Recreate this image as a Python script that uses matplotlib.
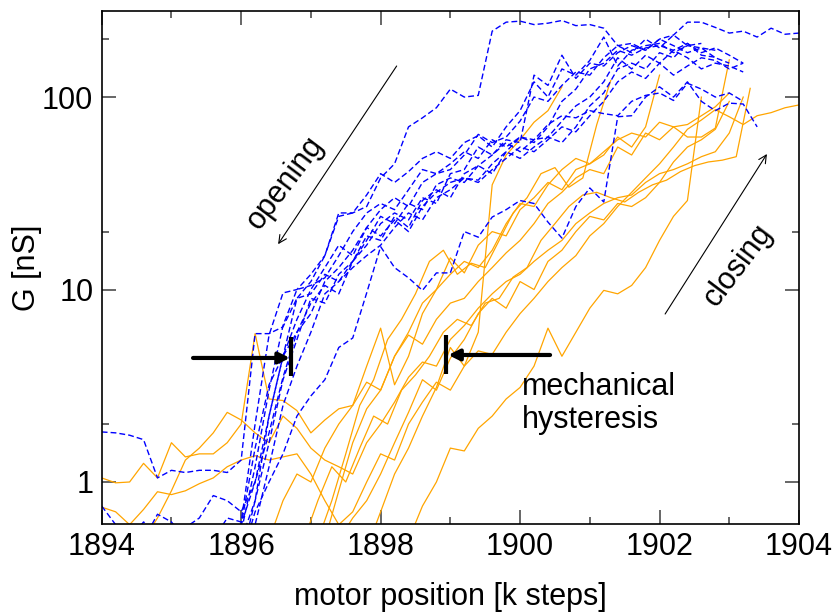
import matplotlib
matplotlib.use('Agg')
import matplotlib.pyplot as plt
from matplotlib.ticker import LogLocator, MultipleLocator, NullFormatter, FuncFormatter
import numpy as np

plt.rcParams['font.family'] = ['Liberation Sans', 'DejaVu Sans']

STEP = 0.2  # motor step between samples [k steps]

# opening sweeps (blue, dashed): first motor position, then G [nS]
op1_x0 = 1896.0
op1 = [0.4, 0.8, 2.2, 4.5, 9.0, 11, 15, 25, 25, 27, 38, 45, 70, 78, 88, 110, 100, 102,
       220, 245, 248, 238, 242, 250, 235, 238, 228, 185, 190, 175, 200, 210, 245, 245,
       230, 215, 220, 205, 228, 212, 215]
op2_x0 = 1895.8
op2 = [0.5, 0.55, 1.2, 3.0, 6.5, 10, 10.5, 11.5, 15, 20, 25, 28, 26, 33, 42, 40, 45, 52,
       48, 60, 55, 62, 58, 70, 95, 110, 140, 150, 175, 165, 180, 185, 175, 190, 170, 180,
       165, 150]
op3_x0 = 1894.0
op3 = [0.75, 0.6, 0.5, 0.62, 0.55, 0.5, 0.58, 0.65, 0.85, 0.8,
       0.7, 1.0, 1.8, 3.5, 6.0, 7.5, 11, 13, 16, 21, 19, 23, 20, 27, 32, 36, 38, 37, 45,
       52, 48, 55, 62, 75, 90, 100, 120, 160, 140, 165, 150, 175, 160, 140, 150, 145, 135]
op4_x0 = 1895.8
op4 = [0.4, 0.5, 0.8, 1.6, 3.4, 5.5, 9.0, 8.5, 12, 14, 18, 24, 22, 28, 26, 35, 38, 36, 44,
       50, 58, 52, 60, 62, 58, 70, 90, 105, 140, 150, 140, 170, 160, 190, 165, 161]
op5_x0 = 1894.6
op5 = [0.5, 0.68, 0.62, 0.5, 0.42, 0.45, 0.45, 0.6, 1.5, 3.2, 4.5, 6.0, 8.5, 10.5, 9.5,
       14, 17, 22, 25, 23, 30, 28, 40, 42, 55, 50, 60, 58, 130, 115, 165, 125, 150, 145,
       170, 185, 175, 200, 185, 170, 180, 160, 150]
op6_x0 = 1895.6
op6 = [0.5, 0.65, 0.62, 2.0, 5.8, 9.6, 10, 12, 15, 24, 25, 31, 40, 36, 41, 48, 52, 48,
       58, 63, 55, 70, 85, 120, 100, 140, 130, 155, 205, 145, 175, 185, 190, 170, 185,
       180, 175]
op7_x0 = 1895.8
op7 = [0.5, 0.5, 0.6, 1.2, 2.5, 4.0, 6.0, 9.5, 11, 13, 15, 17, 21, 25, 23, 30, 33, 38,
       36, 42, 48, 55, 52, 60, 70, 66, 80, 95, 120, 135, 125, 150, 130, 145, 160, 155,
       140, 150]
op8_x0 = 1895.6
op8 = [0.45, 0.55, 0.6, 1.0, 2.2, 4.5, 7.0, 10, 13, 17, 15, 21, 26, 30, 27, 36, 40, 42,
       50, 64, 58, 62, 75, 100, 95, 115, 135, 130, 160, 185, 170, 200, 180, 210, 185, 190]
op9_x0 = 1896.0
op9 = [0.4, 0.7, 1.0, 1.4, 2.2, 2.8, 3.4, 5.0, 5.6, 9.6, 16.7, 13, 11.5, 9.9, 12.2, 12.2,
       20, 18.7, 23.8, 26, 29, 28, 22.4, 18.5, 27, 33.7, 28.5, 79, 80, 100, 113, 100, 120,
       95, 85, 93, 92, 70]
op10_x0 = 1894.0
op10 = [1.82, 1.8, 1.75, 1.66, 1.05, 1.15, 1.12, 1.15, 1.15, 1.12, 1.3, 5.9, 5.9, 6.4,
        9.0, 9.5, 12, 11, 14, 19, 18, 24, 21, 29, 33, 30, 40, 44, 40, 52, 62, 60, 72, 80,
        78, 85, 82, 80, 95, 102, 105, 96, 118, 110, 100, 105, 95]

# closing sweeps (orange, solid)
cl1_x0 = 1897.8
cl1 = [0.45, 0.7, 1.1, 1.5, 2.2, 3.1, 5.0, 4.0, 6.0, 35, 50, 60, 74, 85, 113]
cl2_x0 = 1897.1
cl2 = [0.5, 0.8, 1.4, 2.5, 3.4, 5.5, 7.0, 9.5, 14, 16, 12, 13.7, 13, 18, 25, 30, 40, 43,
       34, 38, 72, 122]
cl3_x0 = 1897.2
cl3 = [0.5, 0.9, 1.6, 2.4, 3.0, 4.5, 6.0, 8.5, 10, 14.6, 12.2, 17, 20, 19, 26, 30, 36,
       33, 42, 45, 50, 62, 55, 70, 130]
cl4_x0 = 1898.4
cl4 = [0.5, 0.75, 1.0, 1.5, 1.45, 1.9, 2.2, 2.7, 3.1, 4.0, 6.3, 4.5, 6.0, 8.0, 9.9, 9.5,
       10.5, 13, 18, 24, 29, 100]
cl5_x0 = 1894.0
cl5 = [1.05, 0.99, 1.0, 1.25, 1.05, 1.6, 1.35, 1.4, 1.4, 1.6, 2.0, 5.9, 2.7, 2.65, 2.35,
       1.8, 2.1, 2.4, 2.5, 4.0, 6.3, 3.2, 4.5, 7.5, 10, 12, 14, 13, 16, 22, 28, 27, 35, 42,
       48, 45, 52, 60, 65, 62, 74, 70, 62, 62, 69, 156]
cl6_x0 = 1896.4
cl6 = [0.5, 0.8, 1.1, 1.0, 1.5, 2.0, 2.5, 3.3, 3.0, 4.5, 5.8, 5.2, 7.0, 8.5, 9.0, 11, 13,
       15.5, 18, 22, 28, 32, 38, 42, 40, 55, 50, 65, 60, 70, 72, 80, 89, 105]
cl7_x0 = 1894.6
cl7 = [0.5, 0.65, 0.9, 1.3, 1.5, 1.8, 2.3, 2.1, 1.8, 1.6, 2.2, 1.9, 1.5, 1.3, 1.2, 1.1,
       1.6, 2.0, 2.6, 3.5, 4.2, 4.0, 5.5, 6.5, 8.0, 9.5, 11, 12, 14, 16, 18, 22, 25, 28,
       30, 31, 36, 40, 42, 45, 49, 52, 65, 100]
cl8_x0 = 1896.9
cl8 = [0.5, 0.8, 1.2, 1.0, 1.5, 2.2, 2.0, 3.0, 3.6, 4.5, 6.0, 7.0, 6.5, 8.5, 9.0, 11.6,
       13, 18, 22, 27, 31, 32, 30, 28.5, 32, 35, 37, 41, 44, 46, 47, 49, 111]
cl9_x0 = 1894.0
cl9 = [0.74, 0.7, 0.6, 0.72, 0.89, 0.86, 0.9, 0.98, 1.05, 1.2, 1.3, 1.37, 1.3, 1.35, 1.4,
       1.1, 0.8, 0.6, 0.7, 1.0, 1.4, 1.3, 2.0, 2.6, 3.3, 3.0, 4.0, 4.8, 4.6, 6.0, 7.5, 9.0,
       11, 13, 15, 19, 22, 27, 32, 38, 45, 55, 68, 76, 86, 79, 72, 80, 83, 88, 91]
cl10_x0 = 1897.4
cl10 = [0.5, 0.65, 0.8, 1.1, 1.6, 2.3, 3.4, 3.0, 4.4, 5.5, 7.5, 9.0, 8.0, 11, 10, 14, 16,
        20, 24, 23, 28, 27, 30, 36, 46, 55, 60, 68, 95]

opening = [(op1_x0, op1), (op2_x0, op2), (op3_x0, op3), (op4_x0, op4), (op5_x0, op5),
           (op6_x0, op6), (op7_x0, op7), (op8_x0, op8), (op9_x0, op9), (op10_x0, op10)]
closing = [(cl1_x0, cl1), (cl2_x0, cl2), (cl3_x0, cl3), (cl4_x0, cl4), (cl5_x0, cl5),
           (cl6_x0, cl6), (cl7_x0, cl7), (cl8_x0, cl8), (cl9_x0, cl9), (cl10_x0, cl10)]


def positions(x0, g):
    return np.round(x0 + STEP * np.arange(len(g)), 2)


FS = 22

fig = plt.figure(figsize=(8.37, 6.14), dpi=100)
ax = fig.add_axes([101.7 / 837, 90 / 614, 697.3 / 837, 513.3 / 614])

for x0, g in closing:
    ax.plot(positions(x0, g), g, color='orange', lw=0.9)
for x0, g in opening:
    ax.plot(positions(x0, g), g, color='blue', lw=1.0, ls=(0, (4.2, 2.2)))

ax.set_yscale('log')
ax.set_xlim(1894, 1904)
ax.set_ylim(0.605, 281)

ax.xaxis.set_major_locator(MultipleLocator(2))
ax.xaxis.set_minor_locator(MultipleLocator(1))
ax.yaxis.set_major_locator(LogLocator(base=10))
ax.yaxis.set_minor_locator(LogLocator(base=10, subs=(2.0,)))
ax.yaxis.set_major_formatter(FuncFormatter(lambda v, p: '%g' % v))
ax.yaxis.set_minor_formatter(NullFormatter())

ax.tick_params(which='both', direction='in', top=True, right=True,
               color='0.3', width=1.2, labelsize=FS, pad=6)
ax.tick_params(which='major', length=10)
ax.tick_params(which='minor', length=5)
for s in ax.spines.values():
    s.set_linewidth(1.2)

ax.set_xlabel('motor position [k steps]', fontsize=FS, labelpad=14)
ax.set_ylabel('G [nS]', fontsize=FS, labelpad=0)

# sweep direction arrows
ax.annotate('', xy=(1896.53, 17.2), xytext=(1898.23, 145),
            arrowprops=dict(arrowstyle='->', color='black', lw=0.8,
                            shrinkA=0, shrinkB=0, mutation_scale=14))
ax.text(1896.63, 36, 'opening', rotation=53, ha='center', va='center', fontsize=FS)
ax.annotate('', xy=(1903.54, 50.6), xytext=(1902.08, 7.46),
            arrowprops=dict(arrowstyle='->', color='black', lw=0.8,
                            shrinkA=0, shrinkB=0, mutation_scale=14))
ax.text(1903.13, 13.4, 'closing', rotation=53, ha='center', va='center', fontsize=FS)

# hysteresis markers
ax.annotate('', xy=(1896.70, 4.41), xytext=(1895.31, 4.41),
            arrowprops=dict(arrowstyle='-|>', color='black', lw=3,
                            shrinkA=0, shrinkB=0, mutation_scale=16))
ax.plot([1896.72, 1896.72], [3.56, 5.66], color='black', lw=3, solid_capstyle='butt')
ax.annotate('', xy=(1898.97, 4.57), xytext=(1900.43, 4.57),
            arrowprops=dict(arrowstyle='-|>', color='black', lw=3,
                            shrinkA=0, shrinkB=0, mutation_scale=16))
ax.plot([1898.94, 1898.94], [3.65, 5.8], color='black', lw=3, solid_capstyle='butt')
ax.text(1900.03, 2.56, 'mechanical\nhysteresis', ha='left', va='center',
        fontsize=FS, linespacing=1.15)

fig.savefig('out.png', dpi=100)
